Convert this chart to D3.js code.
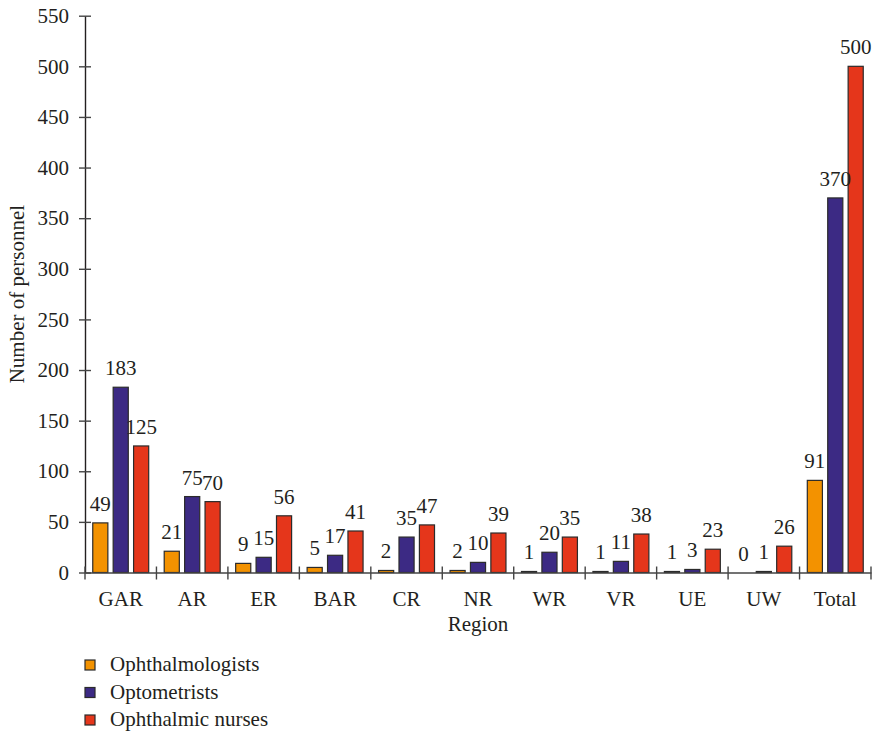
<!DOCTYPE html>
<html>
<head>
<meta charset="utf-8">
<script src="https://cdn.jsdelivr.net/npm/d3@7"></script>
<style>
  body { margin: 0; background: #fff; }
  text { font-family: "Liberation Serif", serif; fill: #231f20; }
</style>
</head>
<body>
<div id="chart"></div>
<script>
// DATA
const regions = ["GAR", "AR", "ER", "BAR", "CR", "NR", "WR", "VR", "UE", "UW", "Total"];
const seriesNames = ["Ophthalmologists", "Optometrists", "Ophthalmic nurses"];
const ophthalmologists = [49, 21, 9, 5, 2, 2, 1, 1, 1, 0, 91];
const optometrists = [183, 75, 15, 17, 35, 10, 20, 11, 3, 1, 370];
const nurses = [125, 70, 56, 41, 47, 39, 35, 38, 23, 26, 500];
const yTicks = [0, 50, 100, 150, 200, 250, 300, 350, 400, 450, 500, 550];

const colors = ["#f39200", "#3c2a84", "#e5361b"];
const fontSize = "21px";

// SVG SIZE
const w = 874;
const h = 735;
const plotLeft = 85, plotRight = 871, plotTop = 15.7, plotBottom = 572.5;

const svg = d3.select("#chart").append("svg").attr("width", w).attr("height", h);

const xScale = d3.scaleBand().domain(regions).range([plotLeft, plotRight]).paddingInner(0).paddingOuter(0);
const xInner = d3.scaleBand().domain(seriesNames).range([0, xScale.bandwidth()]).paddingInner(0.26).paddingOuter(0.38);
const yScale = d3.scaleLinear().domain([0, 550]).range([plotBottom, plotTop]);

// BARS
const rows = regions.map((r, i) => ({
  region: r,
  values: [ophthalmologists[i], optometrists[i], nurses[i]]
}));

const groups = svg.selectAll("g.group")
  .data(rows)
  .enter()
  .append("g")
  .attr("class", "group")
  .attr("transform", (d) => "translate(" + xScale(d.region) + ",0)");

groups.selectAll("rect")
  .data((d) => d.values.map((v, k) => ({ name: seriesNames[k], value: v, k: k })))
  .enter()
  .append("rect")
  .attr("x", (d) => xInner(d.name))
  .attr("y", (d) => yScale(d.value))
  .attr("width", xInner.bandwidth())
  .attr("height", (d) => plotBottom - yScale(d.value))
  .attr("fill", (d) => colors[d.k])
  .attr("stroke", "#2b2b2b")
  .attr("stroke-width", 1.2);

groups.selectAll("text.val")
  .data((d) => d.values.map((v, k) => ({ name: seriesNames[k], value: v, k: k })))
  .enter()
  .append("text")
  .attr("class", "val")
  .attr("x", (d) => xInner(d.name) + xInner.bandwidth() / 2)
  .attr("y", (d) => yScale(d.value) - 12)
  .attr("text-anchor", "middle")
  .style("font-size", fontSize)
  .text((d) => d.value);

// Y AXIS
const yAxis = d3.axisLeft(yScale).tickValues(yTicks).tickSize(0).tickPadding(16);
const yG = svg.append("g").attr("transform", "translate(" + plotLeft + ",0)").call(yAxis);
yG.select(".domain").attr("stroke", "#231f20").attr("stroke-width", 1.4);
yG.selectAll(".tick text").style("font-size", fontSize).style("font-family", "Liberation Serif");
yG.selectAll(".tick").append("line").attr("x1", -6).attr("x2", 6).attr("stroke", "#444").attr("stroke-width", 1.4);

// X AXIS
const xAxis = d3.axisBottom(xScale).tickSize(0).tickPadding(19);
const xG = svg.append("g").attr("transform", "translate(0," + plotBottom + ")").call(xAxis);
xG.select(".domain").attr("stroke", "#444").attr("stroke-width", 1.4);
xG.selectAll(".tick text").style("font-size", fontSize).style("font-family", "Liberation Serif");
xG.selectAll("line.bound")
  .data(regions.concat(["end"]))
  .enter()
  .append("line")
  .attr("class", "bound")
  .attr("x1", (d, i) => (i < regions.length ? xScale(d) : plotRight))
  .attr("x2", (d, i) => (i < regions.length ? xScale(d) : plotRight))
  .attr("y1", -6)
  .attr("y2", 7)
  .attr("stroke", "#444")
  .attr("stroke-width", 1.4);

// AXIS TITLES
svg.append("text")
  .attr("x", (plotLeft + plotRight) / 2)
  .attr("y", 631)
  .attr("text-anchor", "middle")
  .style("font-size", fontSize)
  .text("Region");

svg.append("text")
  .attr("transform", "translate(24," + (plotTop + plotBottom) / 2 + ") rotate(-90)")
  .attr("text-anchor", "middle")
  .style("font-size", fontSize)
  .text("Number of personnel");

// LEGEND
const legend = svg.append("g").attr("transform", "translate(85,657)");
const item = legend.selectAll("g")
  .data(seriesNames)
  .enter()
  .append("g")
  .attr("transform", (d, i) => "translate(0," + i * 27.5 + ")");

item.append("rect")
  .attr("width", 10)
  .attr("height", 10)
  .attr("y", 3)
  .attr("fill", (d, i) => colors[i])
  .attr("stroke", "#2b2b2b")
  .attr("stroke-width", 1.2);

item.append("text")
  .attr("x", 25)
  .attr("y", 14)
  .style("font-size", fontSize)
  .text((d) => d);
</script>
</body>
</html>
